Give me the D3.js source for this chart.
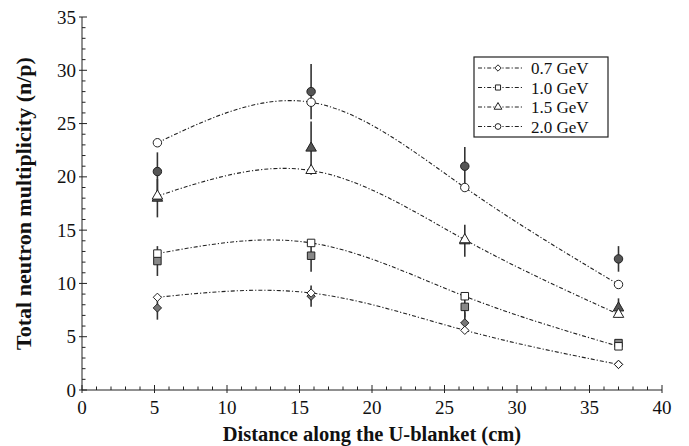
<!DOCTYPE html>
<html>
<head>
<meta charset="utf-8">
<script src="https://cdn.jsdelivr.net/npm/d3@7"></script>
<style>
  body { margin: 0; background: #fff; }
  svg text { font-family: "Liberation Serif", "Times New Roman", serif; fill: #111; }
</style>
</head>
<body>
<svg id="chart"></svg>
<script>
// distances along the blanket (cm)
const positions = [5.2, 15.8, 26.4, 37.0];
const energies = ["0.7 GeV", "1.0 GeV", "1.5 GeV", "2.0 GeV"];
const markers = ["diamond", "square", "triangle", "circle"];

// calculated values (open markers, dashed curves)
const calc07 = [8.7, 9.1, 5.6, 2.4];
const calc10 = [12.8, 13.8, 8.8, 4.1];
const calc15 = [18.2, 20.6, 14.1, 7.1];
const calc20 = [23.2, 27.0, 19.0, 9.9];

// measured values (filled markers) and their errors
const exp07 = [7.7, 8.8, 6.3, 2.4];
const exp10 = [12.1, 12.6, 7.8, 4.4];
const exp15 = [18.0, 22.7, 14.0, 7.7];
const exp20 = [20.5, 28.0, 21.0, 12.3];
const err07 = [1.1, 1.0, 1.0, 0];
const err10 = [1.4, 1.5, 1.0, 0.3];
const err15 = [1.8, 2.5, 1.5, 0.9];
const err20 = [1.8, 2.6, 1.8, 1.2];

const xTicks = [0, 5, 10, 15, 20, 25, 30, 35, 40];
const yTicks = [0, 5, 10, 15, 20, 25, 30, 35];

const calc = [calc07, calc10, calc15, calc20];
const exp = [exp07, exp10, exp15, exp20];
const err = [err07, err10, err15, err20];

const w = 689, h = 446;
const svg = d3.select("#chart").attr("width", w).attr("height", h);

const x = d3.scaleLinear().domain([0, 40]).range([82, 662]);
const y = d3.scaleLinear().domain([0, 35]).range([390, 17]);

const ink = "#222";

// axes: minor ticks inside, major ticks crossing
const xAxis = svg.append("g").attr("transform", "translate(0," + y(0) + ")");
xAxis.append("line").attr("x1", x(0)).attr("x2", x(40)).attr("stroke", ink);
xAxis.selectAll(".minor").data(d3.range(0, 41)).enter().append("line")
  .attr("x1", d => x(d)).attr("x2", d => x(d))
  .attr("y1", 0).attr("y2", d => d % 5 === 0 ? -5 : -3.5)
  .attr("stroke", ink);
xAxis.selectAll(".major").data(xTicks).enter().append("line")
  .attr("x1", d => x(d)).attr("x2", d => x(d))
  .attr("y1", 0).attr("y2", 3).attr("stroke", ink);
xAxis.selectAll("text").data(xTicks).enter().append("text")
  .attr("x", d => x(d)).attr("y", 24)
  .attr("text-anchor", "middle").attr("font-size", 19)
  .text(d => d);

const yAxis = svg.append("g").attr("transform", "translate(" + x(0) + ",0)");
yAxis.append("line").attr("y1", y(0)).attr("y2", y(35)).attr("stroke", ink);
yAxis.selectAll(".minor").data(d3.range(0, 36)).enter().append("line")
  .attr("y1", d => y(d)).attr("y2", d => y(d))
  .attr("x1", 0).attr("x2", d => d % 5 === 0 ? 5 : 3.5)
  .attr("stroke", ink);
yAxis.selectAll(".major").data(yTicks).enter().append("line")
  .attr("y1", d => y(d)).attr("y2", d => y(d))
  .attr("x1", -3).attr("x2", 0).attr("stroke", ink);
yAxis.selectAll("text").data(yTicks).enter().append("text")
  .attr("x", -6).attr("y", d => y(d) + 6.5)
  .attr("text-anchor", "end").attr("font-size", 19)
  .text(d => d);

svg.append("text")
  .attr("transform", "translate(31," + ((y(0) + y(35)) / 2) + ") rotate(-90)")
  .attr("text-anchor", "middle").attr("font-size", 22).attr("font-weight", "bold")
  .text("Total neutron multiplicity (n/p)");
svg.append("text")
  .attr("x", (x(0) + x(40)) / 2).attr("y", 441)
  .attr("text-anchor", "middle").attr("font-size", 20.5).attr("font-weight", "bold")
  .text("Distance along the U-blanket (cm)");

// marker shapes
const symbolFor = {
  diamond: d3.symbol().type(d3.symbolDiamond2).size(44),
  square: d3.symbol().type(d3.symbolSquare).size(56),
  triangle: d3.symbol().type(d3.symbolTriangle).size(48),
  circle: d3.symbol().type(d3.symbolCircle).size(56)
};
const fills = ["#777", "#888", "#555", "#555"];

const line = d3.line()
  .x((d, i) => x(positions[i]))
  .y(d => y(d))
  .curve(d3.curveNatural);

const dash = "4,2,1.2,2";

// dashed calculation curves
calc.forEach((vals) => {
  svg.append("path").datum(vals)
    .attr("d", line)
    .attr("fill", "none")
    .attr("stroke", ink)
    .attr("stroke-width", 1.1)
    .attr("stroke-dasharray", dash);
});

// error bars for measurements
exp.forEach((vals, s) => {
  svg.append("g").selectAll("line").data(vals).enter().append("line")
    .attr("x1", (d, i) => x(positions[i])).attr("x2", (d, i) => x(positions[i]))
    .attr("y1", (d, i) => y(d + err[s][i])).attr("y2", (d, i) => y(d - err[s][i]))
    .attr("stroke", "#333").attr("stroke-width", 1.6);
});

// measured (filled) markers
exp.forEach((vals, s) => {
  svg.append("g").selectAll("path").data(vals).enter().append("path")
    .attr("d", symbolFor[markers[s]])
    .attr("transform", (d, i) => "translate(" + x(positions[i]) + "," + y(d) + ")")
    .attr("fill", fills[s])
    .attr("stroke", ink).attr("stroke-width", 1);
});

// calculated (open) markers
calc.forEach((vals, s) => {
  svg.append("g").selectAll("path").data(vals).enter().append("path")
    .attr("d", symbolFor[markers[s]])
    .attr("transform", (d, i) => "translate(" + x(positions[i]) + "," + y(d) + ")")
    .attr("fill", "#fff")
    .attr("stroke", ink).attr("stroke-width", 1);
});

// legend
const lg = svg.append("g");
const lgTop = 57, rowH = 19.5;
lg.append("rect")
  .attr("x", 474).attr("y", lgTop)
  .attr("width", 134).attr("height", 80)
  .attr("fill", "#fff").attr("stroke", ink).attr("stroke-width", 1.2);
energies.forEach((name, s) => {
  const cy = lgTop + 11 + s * rowH;
  lg.append("line")
    .attr("x1", 478).attr("x2", 524).attr("y1", cy).attr("y2", cy)
    .attr("stroke", ink).attr("stroke-dasharray", dash);
  lg.append("path")
    .attr("d", d3.symbol().type(symbolFor[markers[s]].type()).size(26))
    .attr("transform", "translate(498," + cy + ")")
    .attr("fill", "#fff").attr("stroke", ink);
  lg.append("text")
    .attr("x", 531).attr("y", cy + 6)
    .attr("font-size", 17)
    .text(name);
});
</script>
</body>
</html>
